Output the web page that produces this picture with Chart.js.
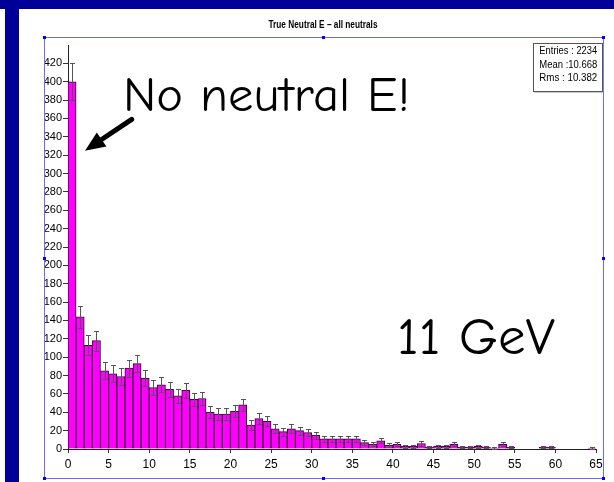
<!DOCTYPE html>
<html>
<head>
<meta charset="utf-8">
<script src="https://cdn.jsdelivr.net/npm/chart.js@4.4.1/dist/chart.umd.min.js"></script>
<style>
  html, body { margin: 0; padding: 0; background: #fff; }
  #wrap { position: relative; width: 614px; height: 482px; overflow: hidden; background: #fff; }
  #wrap canvas, #wrap svg { position: absolute; left: 0; top: 0; }
  .bandTop { position: absolute; left: 0; top: 0; width: 614px; height: 9px; background: #000099; }
  .bandLeft { position: absolute; left: 5px; top: 0; width: 14px; height: 482px; background: #000099; }
</style>
</head>
<body>
<div id="wrap">
  <div class="bandTop"></div>
  <div class="bandLeft"></div>
  <canvas id="hist" width="614" height="482"></canvas>
  <svg id="overlay" width="614" height="482" xmlns="http://www.w3.org/2000/svg">
    <!-- pad outline with its handles -->
    <rect x="44.5" y="37.5" width="559" height="441" fill="none" stroke="#6a6aff" stroke-width="1"/>
    <g fill="#0000ff">
      <rect x="43" y="36" width="3" height="3"/><rect x="322" y="36" width="3" height="3"/><rect x="602" y="36" width="3" height="3"/>
      <rect x="43" y="257" width="3" height="3"/><rect x="602" y="257" width="3" height="3"/>
      <rect x="43" y="477" width="3" height="3"/><rect x="322" y="477" width="3" height="3"/><rect x="602" y="477" width="3" height="3"/>
    </g>
    <text x="323" y="28" text-anchor="middle" textLength="109" lengthAdjust="spacingAndGlyphs"
          font-family="Liberation Sans Narrow, Arial Narrow, Liberation Sans, Arial" font-weight="bold" font-size="10">True Neutral E – all neutrals</text>

    <!-- stats box -->
    <rect x="534.5" y="44.5" width="69" height="48" fill="#999"/>
    <rect x="533.5" y="43.5" width="69" height="48" fill="#fff" stroke="#555" stroke-width="1"/>
    <g id="stats" font-family="Liberation Sans Narrow, Arial Narrow, Liberation Sans, Arial" font-size="10" fill="#000"></g>

    <!-- annotations -->
    <text x="123" y="110.7" textLength="287" lengthAdjust="spacingAndGlyphs"
          font-family="Comic Sans MS, Comic Neue, DejaVu Sans, sans-serif" font-size="49" fill="#000">No neutral E!</text>
    <text x="397" y="354" textLength="158" lengthAdjust="spacingAndGlyphs"
          font-family="Comic Sans MS, Comic Neue, DejaVu Sans, sans-serif" font-size="52" fill="#000">11 GeV</text>
    <line x1="131.7" y1="119.3" x2="101.6" y2="139.5" stroke="#000" stroke-width="5" stroke-linecap="round"/>
    <polygon points="85,150.7 96.8,132.6 106.4,146.4" fill="#000"/>
  </svg>
</div>
<script>
// entries per 1 GeV bin, 0..65
const binWidth = 1;
const counts = [
  400, 144, 113, 118, 85, 82, 79, 88, 93, 77,
  67, 70, 65, 58, 64, 54, 55, 40, 38, 38,
  41, 48, 26, 33, 30, 22, 19, 22, 20, 18,
  15, 11, 11, 11, 11, 11, 7, 5, 9, 4,
  5, 3, 3, 6, 2, 3, 3, 5, 2, 2,
  3, 2, 1, 5, 2, 0, 0, 0, 2, 2,
  0, 0, 0, 0, 1
];
const xTickValues = [0, 5, 10, 15, 20, 25, 30, 35, 40, 45, 50, 55, 60, 65];
const yTickValues = [0, 20, 40, 60, 80, 100, 120, 140, 160, 180, 200, 220, 240, 260, 280, 300, 320, 340, 360, 380, 400, 420];
const yMax = 440;
const statsLines = ["Entries : 2234", "Mean :10.668", "Rms :  10.382"];

// stats box text
const statsG = document.getElementById("stats");
statsLines.forEach((s, i) => {
  const t = document.createElementNS("http://www.w3.org/2000/svg", "text");
  t.setAttribute("x", 539.3);
  t.setAttribute("y", 54 + i * 13.5);
  t.setAttribute("textLength", 58);
  t.setAttribute("lengthAdjust", "spacingAndGlyphs");
  t.textContent = s;
  statsG.appendChild(t);
});

const tickFont = { family: "'Liberation Sans Narrow', 'Arial Narrow', 'Liberation Sans', Arial", size: 11 };

// sqrt(N) error bars like ROOT draws them
const errorBars = {
  id: "errorBars",
  afterDatasetsDraw(chart) {
    const { ctx, scales: { x, y } } = chart;
    ctx.save();
    ctx.strokeStyle = "#555";
    ctx.lineWidth = 1;
    counts.forEach((n, i) => {
      if (!n) return;
      const err = Math.sqrt(n);
      const cx = Math.round(x.getPixelForValue(i * binWidth + binWidth / 2)) + 0.5;
      const top = Math.round(y.getPixelForValue(n + err)) + 0.5;
      const bot = Math.round(y.getPixelForValue(n - err)) + 0.5;
      ctx.beginPath();
      ctx.moveTo(cx, top); ctx.lineTo(cx, bot);
      ctx.moveTo(cx - 2.5, top); ctx.lineTo(cx + 2.5, top);
      ctx.moveTo(cx - 2.5, bot); ctx.lineTo(cx + 2.5, bot);
      ctx.stroke();
    });
    ctx.restore();
  }
};

new Chart(document.getElementById("hist").getContext("2d"), {
  type: "bar",
  data: {
    datasets: [{
      data: counts.map((c, i) => ({ x: i * binWidth + binWidth / 2, y: c })),
      backgroundColor: "#ff00ff",
      borderColor: "#3a003a",
      borderWidth: 1,
      barPercentage: 1,
      categoryPercentage: 1
    }]
  },
  options: {
    responsive: false,
    animation: false,
    layout: { padding: { left: 0, right: 18, top: 45, bottom: 13 } },
    plugins: { legend: { display: false }, tooltip: { enabled: false } },
    scales: {
      x: {
        type: "linear",
        min: 0,
        max: 65,
        offset: false,
        grid: { drawOnChartArea: false, offset: false, tickLength: 4, color: "#333" },
        border: { color: "#222" },
        ticks: { font: { ...tickFont, size: 12 }, color: "#000", padding: 4, maxRotation: 0, autoSkip: false },
        afterBuildTicks: s => { s.ticks = xTickValues.map(v => ({ value: v })); },
        afterFit: s => { s.height = 20; }
      },
      y: {
        min: 0,
        max: yMax,
        grid: { drawOnChartArea: false, tickLength: 5, color: "#333" },
        border: { color: "#222" },
        ticks: { font: tickFont, color: "#000", padding: 1, autoSkip: false },
        afterBuildTicks: s => { s.ticks = yTickValues.map(v => ({ value: v })); },
        afterFit: s => { s.width = 68; }
      }
    }
  },
  plugins: [errorBars]
});
</script>
</body>
</html>
